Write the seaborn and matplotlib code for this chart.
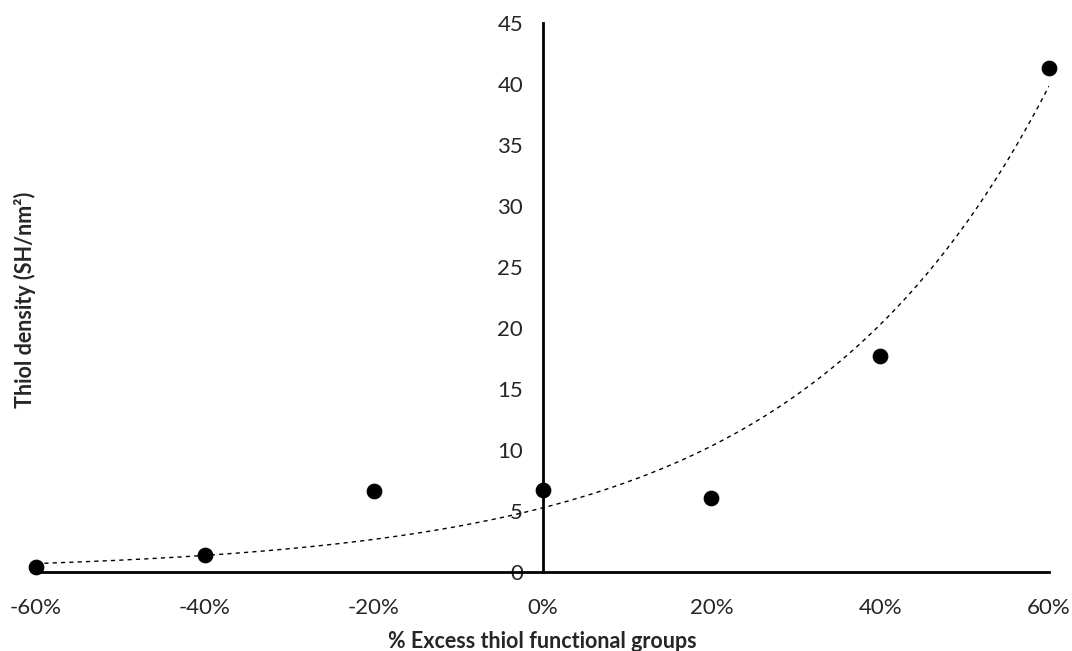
import numpy as np
import pandas as pd
import matplotlib
matplotlib.use("Agg")
import matplotlib.pyplot as plt
import seaborn as sns
from matplotlib.ticker import FuncFormatter

# valores
excess = [-60, -40, -20, 0, 20, 40, 60]
density = [0.4, 1.4, 6.6, 6.7, 6.1, 17.7, 41.3]
y_ticks = [0, 5, 10, 15, 20, 25, 30, 35, 40, 45]
x_ticks = [-60, -40, -20, 0, 20, 40, 60]

df = pd.DataFrame({"excess": excess, "density": density})

# linea de tendencia exponencial (como Excel)
b, ln_a = np.polyfit(df["excess"], np.log(df["density"]), 1)
x_fit = np.linspace(-60, 60, 200)
df_fit = pd.DataFrame({"excess": x_fit, "density": np.exp(ln_a) * np.exp(b * x_fit)})

sns.set_style("white")
plt.rcParams["font.family"] = ["Lato", "DejaVu Sans"]

fig = plt.figure(figsize=(10.72, 6.51), dpi=100)
ax = fig.add_axes([36 / 1072, 1 - 572 / 651, (1049 - 36) / 1072, (572 - 23) / 651])

sns.lineplot(data=df_fit, x="excess", y="density", ax=ax, color="black",
             linewidth=1.0, linestyle=(0, (3, 3)))
sns.scatterplot(data=df, x="excess", y="density", ax=ax, color="black",
                s=110, edgecolor="black", zorder=5, clip_on=False)

ax.set_xlim(-60, 60)
ax.set_ylim(0, 45)
ax.set_xticks(x_ticks)
ax.set_yticks(y_ticks)
ax.xaxis.set_major_formatter(FuncFormatter(lambda v, p: f"{v:.0f}%"))

for side in ["top", "right"]:
    ax.spines[side].set_visible(False)
ax.spines["left"].set_position(("data", 0))
ax.spines["left"].set_linewidth(2)
ax.spines["bottom"].set_linewidth(2)
ax.spines["left"].set_color("black")
ax.spines["bottom"].set_color("black")
ax.tick_params(axis="x", length=0, pad=19, labelsize=16)
ax.tick_params(axis="y", length=0, pad=14, labelsize=16)

ax.set_xlabel("% Excess thiol functional groups", fontsize=15.5, fontweight="bold", labelpad=9)
ax.set_ylabel("")
fig.text(25 / 1072, 1 - 300 / 651, "Thiol density (SH/nm²)", rotation=90, fontsize=15.5,
         fontweight="bold", ha="center", va="center")

fig.savefig("out.png", dpi=100)
